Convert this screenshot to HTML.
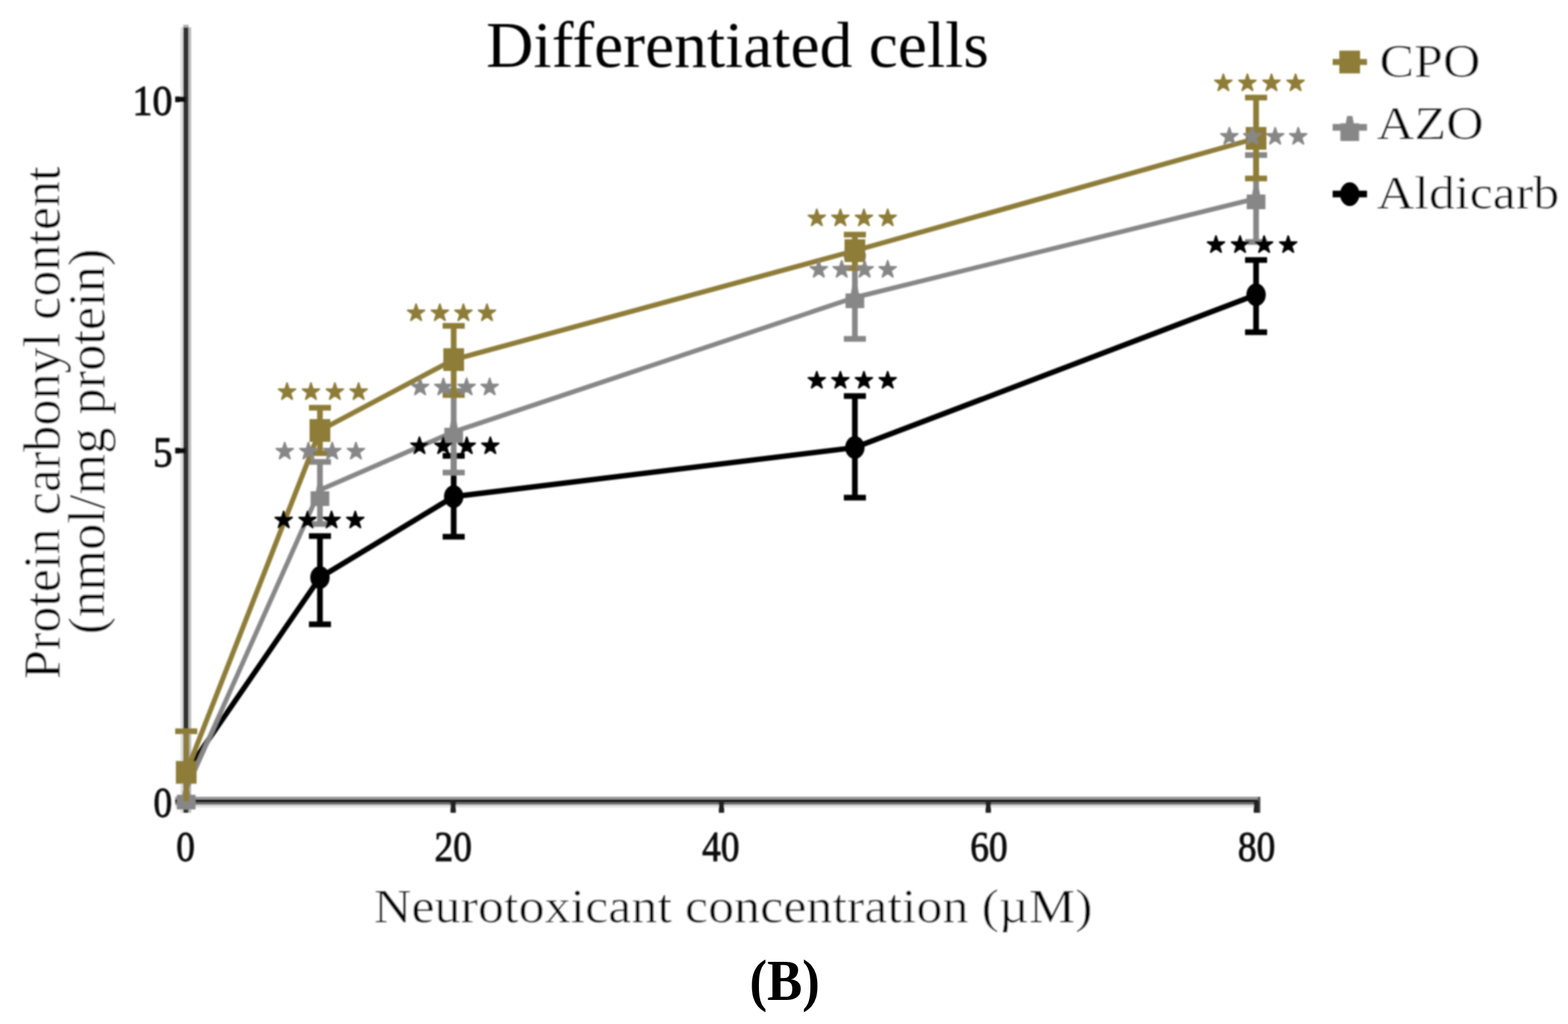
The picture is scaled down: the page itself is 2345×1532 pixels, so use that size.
<!DOCTYPE html>
<html><head><meta charset="utf-8"><title>Differentiated cells</title>
<style>
html,body{margin:0;padding:0;background:#fff;}
svg{display:block;}
text{font-family:"Liberation Serif","Times New Roman",serif;}
.sfb{font-weight:bold;}
.st{font-family:"DejaVu Sans",sans-serif;}
</style></head><body>
<svg width="2345" height="1532" viewBox="0 0 2345 1532">
<defs><filter id="soft" x="0" y="0" width="100%" height="100%" filterUnits="userSpaceOnUse"><feGaussianBlur stdDeviation="1.0"/></filter></defs>
<rect width="2345" height="1532" fill="#fff"/>
<g filter="url(#soft)">
<rect x="270" y="41" width="4" height="1175" fill="#e0e0e0"/>
<rect x="282" y="41" width="4" height="1175" fill="#bcbcbc"/>
<rect x="274" y="37" width="8" height="4" fill="#b0b0b0"/>
<rect x="274" y="41" width="8" height="1175" fill="#303030"/>
<rect x="262" y="1192" width="1623" height="4" fill="#999"/>
<rect x="262" y="1196" width="1623" height="4" fill="#000"/>
<rect x="262" y="1200" width="1623" height="4" fill="#6b6b6b"/>
<rect x="262" y="1204" width="1623" height="4" fill="#e0e0e0"/>
<rect x="1881" y="1192" width="4" height="24" fill="#555"/>
<line x1="262" y1="148.6" x2="278" y2="148.6" stroke="#111" stroke-width="8.5"/>
<line x1="262" y1="674.2" x2="278" y2="674.2" stroke="#111" stroke-width="8.5"/>
<line x1="677.7" y1="1198" x2="677.7" y2="1216" stroke="#222" stroke-width="8"/>
<line x1="1079" y1="1198" x2="1079" y2="1216" stroke="#222" stroke-width="8"/>
<line x1="1478" y1="1198" x2="1478" y2="1216" stroke="#222" stroke-width="8"/>
<line x1="1879" y1="1198" x2="1879" y2="1216" stroke="#222" stroke-width="8"/>
<g class="tk" fill="#111" font-size="64" stroke="#111" stroke-width="1.3">
<text x="198" y="172" textLength="60" lengthAdjust="spacingAndGlyphs">10</text>
<text x="229" y="698" textLength="29" lengthAdjust="spacingAndGlyphs">5</text>
<text x="229.5" y="1222" textLength="28" lengthAdjust="spacingAndGlyphs">0</text>
<text x="263.5" y="1288" textLength="28" lengthAdjust="spacingAndGlyphs">0</text>
<text x="649.7" y="1288" textLength="56" lengthAdjust="spacingAndGlyphs">20</text>
<text x="1050.0" y="1288" textLength="56" lengthAdjust="spacingAndGlyphs">40</text>
<text x="1451.0" y="1288" textLength="56" lengthAdjust="spacingAndGlyphs">60</text>
<text x="1851.3" y="1288" textLength="56" lengthAdjust="spacingAndGlyphs">80</text>
</g>
<line x1="478.5" y1="802.0" x2="478.5" y2="934.0" stroke="#000" stroke-width="8.5"/>
<line x1="462.0" y1="802.0" x2="495.0" y2="802.0" stroke="#000" stroke-width="8.5"/>
<line x1="462.0" y1="934.0" x2="495.0" y2="934.0" stroke="#000" stroke-width="8.5"/>
<line x1="678.5" y1="682.0" x2="678.5" y2="803.0" stroke="#000" stroke-width="8.5"/>
<line x1="662.0" y1="682.0" x2="695.0" y2="682.0" stroke="#000" stroke-width="8.5"/>
<line x1="662.0" y1="803.0" x2="695.0" y2="803.0" stroke="#000" stroke-width="8.5"/>
<line x1="1278.5" y1="592.5" x2="1278.5" y2="744.5" stroke="#000" stroke-width="8.5"/>
<line x1="1262.0" y1="592.5" x2="1295.0" y2="592.5" stroke="#000" stroke-width="8.5"/>
<line x1="1262.0" y1="744.5" x2="1295.0" y2="744.5" stroke="#000" stroke-width="8.5"/>
<line x1="1878.5" y1="389.0" x2="1878.5" y2="497.0" stroke="#000" stroke-width="8.5"/>
<line x1="1862.0" y1="389.0" x2="1895.0" y2="389.0" stroke="#000" stroke-width="8.5"/>
<line x1="1862.0" y1="497.0" x2="1895.0" y2="497.0" stroke="#000" stroke-width="8.5"/>
<polyline points="278.5,1155.0 478.5,864.0 678.5,743.0 1278.5,669.6 1878.5,441.0" fill="none" stroke="#000" stroke-width="8" stroke-linejoin="round"/>
<ellipse cx="278.5" cy="1155.0" rx="14.5" ry="17" fill="#000"/>
<ellipse cx="478.5" cy="864.0" rx="14.5" ry="17" fill="#000"/>
<ellipse cx="678.5" cy="743.0" rx="14.5" ry="17" fill="#000"/>
<ellipse cx="1278.5" cy="669.6" rx="14.5" ry="17" fill="#000"/>
<ellipse cx="1878.5" cy="441.0" rx="14.5" ry="17" fill="#000"/>
<line x1="478.5" y1="691.0" x2="478.5" y2="784.0" stroke="#878787" stroke-width="8.5"/>
<line x1="462.0" y1="691.0" x2="495.0" y2="691.0" stroke="#878787" stroke-width="8.5"/>
<line x1="462.0" y1="784.0" x2="495.0" y2="784.0" stroke="#878787" stroke-width="8.5"/>
<line x1="678.5" y1="585.0" x2="678.5" y2="707.0" stroke="#878787" stroke-width="8.5"/>
<line x1="662.0" y1="585.0" x2="695.0" y2="585.0" stroke="#878787" stroke-width="8.5"/>
<line x1="662.0" y1="707.0" x2="695.0" y2="707.0" stroke="#878787" stroke-width="8.5"/>
<line x1="1278.5" y1="383.0" x2="1278.5" y2="507.0" stroke="#878787" stroke-width="8.5"/>
<line x1="1262.0" y1="383.0" x2="1295.0" y2="383.0" stroke="#878787" stroke-width="8.5"/>
<line x1="1262.0" y1="507.0" x2="1295.0" y2="507.0" stroke="#878787" stroke-width="8.5"/>
<line x1="1878.5" y1="232.0" x2="1878.5" y2="362.0" stroke="#878787" stroke-width="8.5"/>
<line x1="1862.0" y1="232.0" x2="1895.0" y2="232.0" stroke="#878787" stroke-width="8.5"/>
<line x1="1862.0" y1="362.0" x2="1895.0" y2="362.0" stroke="#878787" stroke-width="8.5"/>
<polyline points="278.5,1181.0 478.5,733.0 678.5,646.0 1278.5,445.0 1878.5,297.0" fill="none" stroke="#878787" stroke-width="7" stroke-linejoin="round"/>
<polygon points="274.5,1178.0 282.5,1178.0 284.5,1189.0 292.5,1189.0 292.5,1200.0 292.5,1211.0 264.5,1211.0 264.5,1200.0 264.5,1189.0 272.5,1189.0" fill="#878787"/>
<polygon points="474.5,724.0 482.5,724.0 484.5,735.0 492.5,735.0 492.5,746.0 492.5,757.0 464.5,757.0 464.5,746.0 464.5,735.0 472.5,735.0" fill="#878787"/>
<polygon points="674.5,629.0 682.5,629.0 684.5,640.0 692.5,640.0 692.5,651.0 692.5,662.0 664.5,662.0 664.5,651.0 664.5,640.0 672.5,640.0" fill="#878787"/>
<polygon points="1274.5,428.0 1282.5,428.0 1284.5,439.0 1292.5,439.0 1292.5,450.0 1292.5,461.0 1264.5,461.0 1264.5,450.0 1264.5,439.0 1272.5,439.0" fill="#878787"/>
<polygon points="1874.5,280.0 1882.5,280.0 1884.5,291.0 1892.5,291.0 1892.5,302.0 1892.5,313.0 1864.5,313.0 1864.5,302.0 1864.5,291.0 1872.5,291.0" fill="#878787"/>
<line x1="278.5" y1="1094.0" x2="278.5" y2="1199.0" stroke="#8e7d37" stroke-width="8.5"/>
<line x1="262.0" y1="1094.0" x2="295.0" y2="1094.0" stroke="#8e7d37" stroke-width="8.5"/>
<line x1="478.5" y1="610.0" x2="478.5" y2="678.0" stroke="#8e7d37" stroke-width="8.5"/>
<line x1="462.0" y1="610.0" x2="495.0" y2="610.0" stroke="#8e7d37" stroke-width="8.5"/>
<line x1="462.0" y1="678.0" x2="495.0" y2="678.0" stroke="#8e7d37" stroke-width="8.5"/>
<line x1="678.5" y1="487.5" x2="678.5" y2="591.0" stroke="#8e7d37" stroke-width="8.5"/>
<line x1="662.0" y1="487.5" x2="695.0" y2="487.5" stroke="#8e7d37" stroke-width="8.5"/>
<line x1="662.0" y1="591.0" x2="695.0" y2="591.0" stroke="#8e7d37" stroke-width="8.5"/>
<line x1="1278.5" y1="351.0" x2="1278.5" y2="401.0" stroke="#8e7d37" stroke-width="8.5"/>
<line x1="1262.0" y1="351.0" x2="1295.0" y2="351.0" stroke="#8e7d37" stroke-width="8.5"/>
<line x1="1262.0" y1="401.0" x2="1295.0" y2="401.0" stroke="#8e7d37" stroke-width="8.5"/>
<line x1="1878.5" y1="146.0" x2="1878.5" y2="267.0" stroke="#8e7d37" stroke-width="8.5"/>
<line x1="1862.0" y1="146.0" x2="1895.0" y2="146.0" stroke="#8e7d37" stroke-width="8.5"/>
<line x1="1862.0" y1="267.0" x2="1895.0" y2="267.0" stroke="#8e7d37" stroke-width="8.5"/>
<polyline points="278.5,1155.5 478.5,644.0 678.5,538.0 1278.5,375.0 1878.5,207.0" fill="none" stroke="#8e7d37" stroke-width="7.5" stroke-linejoin="round"/>
<rect x="263.0" y="1138.5" width="31" height="34" fill="#8e7d37"/>
<rect x="463.0" y="627.0" width="31" height="34" fill="#8e7d37"/>
<rect x="663.0" y="521.0" width="31" height="34" fill="#8e7d37"/>
<rect x="1263.0" y="358.0" width="31" height="34" fill="#8e7d37"/>
<rect x="1863.0" y="190.0" width="31" height="34" fill="#8e7d37"/>
<text x="409.6" y="788.5" fill="#000" stroke="#000" stroke-width="2.5" stroke-linejoin="round" font-size="33" class="st" letter-spacing="6.08">★★★★</text>
<text x="612.6" y="677.5" fill="#000" stroke="#000" stroke-width="2.5" stroke-linejoin="round" font-size="33" class="st" letter-spacing="5.75">★★★★</text>
<text x="1206.7" y="580.0" fill="#000" stroke="#000" stroke-width="2.5" stroke-linejoin="round" font-size="33" class="st" letter-spacing="5.75">★★★★</text>
<text x="1803.7" y="377.1" fill="#000" stroke="#000" stroke-width="2.5" stroke-linejoin="round" font-size="33" class="st" letter-spacing="6.42">★★★★</text>
<text x="411.1" y="685.5" fill="#878787" stroke="#878787" stroke-width="2.5" stroke-linejoin="round" font-size="33" class="st" letter-spacing="5.92">★★★★</text>
<text x="613.6" y="589.5" fill="#878787" stroke="#878787" stroke-width="2.5" stroke-linejoin="round" font-size="33" class="st" letter-spacing="5.08">★★★★</text>
<text x="1209.7" y="414.1" fill="#878787" stroke="#878787" stroke-width="2.5" stroke-linejoin="round" font-size="33" class="st" letter-spacing="4.75">★★★★</text>
<text x="1823.7" y="214.6" fill="#878787" stroke="#878787" stroke-width="2.5" stroke-linejoin="round" font-size="33" class="st" letter-spacing="4.75">★★★★</text>
<text x="414.6" y="596.5" fill="#8e7d37" stroke="#8e7d37" stroke-width="2.5" stroke-linejoin="round" font-size="33" class="st" letter-spacing="6.08">★★★★</text>
<text x="607.6" y="479.1" fill="#8e7d37" stroke="#8e7d37" stroke-width="2.5" stroke-linejoin="round" font-size="33" class="st" letter-spacing="5.75">★★★★</text>
<text x="1206.7" y="337.1" fill="#8e7d37" stroke="#8e7d37" stroke-width="2.5" stroke-linejoin="round" font-size="33" class="st" letter-spacing="5.75">★★★★</text>
<text x="1814.7" y="135.1" fill="#8e7d37" stroke="#8e7d37" stroke-width="2.5" stroke-linejoin="round" font-size="33" class="st" letter-spacing="6.42">★★★★</text>
<line x1="1993" y1="92.8" x2="2044.4" y2="92.8" stroke="#8e7d37" stroke-width="9"/>
<rect x="2003.0" y="75.8" width="31" height="34" fill="#8e7d37"/>
<line x1="1993" y1="190.5" x2="2044.4" y2="190.5" stroke="#878787" stroke-width="10"/>
<polygon points="2014.6,173.5 2022.6,173.5 2024.6,184.5 2032.6,184.5 2032.6,195.5 2032.6,211.0 2004.6,211.0 2004.6,195.5 2004.6,184.5 2012.6,184.5" fill="#878787"/>
<line x1="1993" y1="290.3" x2="2044.4" y2="290.3" stroke="#000" stroke-width="10"/>
<ellipse cx="2018.6" cy="290.5" rx="14.5" ry="17.8" fill="#000"/>
<g class="lg" fill="#000" font-size="70" stroke="#fff" stroke-width="0.6">
<text x="2063" y="114.5" textLength="151" lengthAdjust="spacingAndGlyphs">CPO</text>
<text x="2059" y="207.5" textLength="160" lengthAdjust="spacingAndGlyphs">AZO</text>
<text x="2059" y="311.5" textLength="273" lengthAdjust="spacingAndGlyphs">Aldicarb</text>
</g>
<text x="727" y="100" font-size="98" class="sf" fill="#000">Differentiated cells</text>
<text x="559" y="1380" font-size="72" class="sf" fill="#000" stroke="#fff" stroke-width="0.6" textLength="1075" lengthAdjust="spacingAndGlyphs">Neurotoxicant concentration (µM)</text>
<text transform="translate(89,1016) rotate(-90)" font-size="78" class="sf" fill="#000" stroke="#fff" stroke-width="0.6" textLength="767" lengthAdjust="spacingAndGlyphs">Protein carbonyl content</text>
<text transform="translate(156,949) rotate(-90)" font-size="78" class="sf" fill="#000" stroke="#fff" stroke-width="0.6" textLength="577" lengthAdjust="spacingAndGlyphs">(nmol/mg protein)</text>
</g>
<text x="1121" y="1496" font-size="86" class="sfb" fill="#000" textLength="105" lengthAdjust="spacingAndGlyphs">(B)</text>
</svg>
</body></html>
